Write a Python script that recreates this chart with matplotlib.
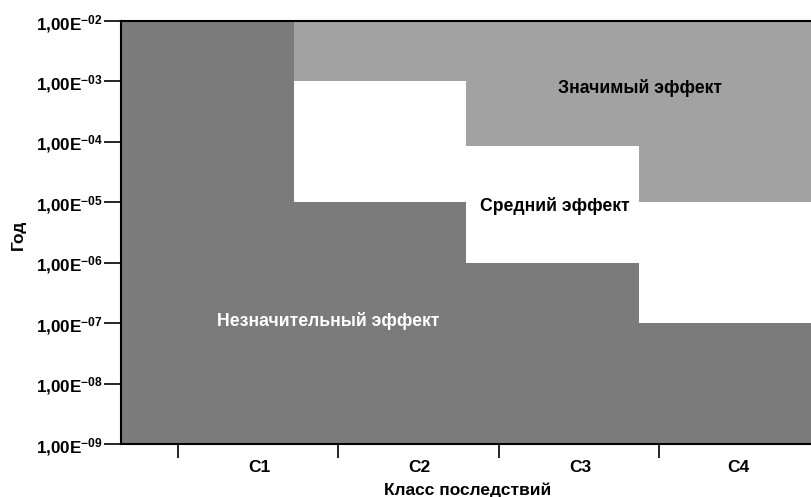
import numpy as np
import matplotlib
matplotlib.use("Agg")
import matplotlib.pyplot as plt

plt.rcParams['font.family'] = ['Liberation Sans', 'DejaVu Sans']
plt.rcParams['font.weight'] = 'bold'
plt.rcParams['mathtext.fontset'] = 'custom'
plt.rcParams['mathtext.rm'] = 'Liberation Sans:bold'
plt.rcParams['mathtext.default'] = 'rm'

# данные: границы зон по классам последствий (нижние границы зон)
classes = ["C1", "C2", "C3", "C4"]
white_bottom = [1e-2, 1e-5, 1e-6, 1e-7]     # нижняя граница "Средний эффект"
light_bottom = [1e-2, 1e-3, 8.5e-5, 1e-5]   # нижняя граница "Значимый эффект"
y_min, y_max = 1e-9, 1e-2
y_ticks = [1e-2, 1e-3, 1e-4, 1e-5, 1e-6, 1e-7, 1e-8, 1e-9]
tick_pos = [0.33, 1.26, 2.19, 3.12]     # засечки оси X (смещены, как в оригинале)
label_pos = [0.80, 1.73, 2.66, 3.58]

dark = "#7b7b7b"
light = "#a2a2a2"

fig = plt.figure(figsize=(8.11, 4.97), dpi=100)
ax = fig.add_axes([121 / 811, 1 - 444 / 497, 1 - 121 / 811, (444 - 21) / 497])
ax.set_yscale("log")

x = np.arange(len(classes))
wb = np.array(white_bottom)
lb = np.array(light_bottom)
# тёмная зона
ax.bar(x, wb - y_min, bottom=y_min, width=1.0, align="edge", color=dark, linewidth=0)
# белая зона
ax.bar(x, lb - wb, bottom=wb, width=1.0, align="edge", color="white", linewidth=0)
# светлая зона
ax.bar(x, y_max - lb, bottom=lb, width=1.0, align="edge", color=light, linewidth=0)

ax.set_xlim(0, 4)
ax.set_ylim(y_min, y_max)

ax.set_yticks(y_ticks)
ax.set_yticklabels([r"1,00E$^{-%02d}$" % int(round(-np.log10(v))) for v in y_ticks], fontsize=12.3)
ax.yaxis.set_minor_locator(matplotlib.ticker.NullLocator())
ax.tick_params(axis="y", length=12, width=1.2, pad=1)

ax.set_xticks(tick_pos)
ax.set_xticklabels([])
ax.tick_params(axis="x", length=10, width=1.2, direction="out")
for p, c in zip(label_pos, classes):
    ax.text(p, -0.055, c, transform=ax.get_xaxis_transform(), ha="center", va="center",
            fontsize=12.5, fontweight="bold")

ax.spines["right"].set_visible(False)
for s in ["left", "bottom", "top"]:
    ax.spines[s].set_linewidth(1.5)

ax.text(1.2, 1.1e-7, "Незначительный эффект", ha="center", va="center", color="white",
        fontsize=12.7, fontweight="bold")
ax.text(2.516, 8.7e-6, "Средний эффект", ha="center", va="center", color="black",
        fontsize=12.7, fontweight="bold")
ax.text(3.009, 7.8e-4, "Значимый эффект", ha="center", va="center", color="black",
        fontsize=12.7, fontweight="bold")

fig.text(18 / 811, 1 - 235 / 497, "Год", rotation=90, ha="center", va="center",
         fontsize=12.5, fontweight="bold")
fig.text(468 / 811, 1 - 490 / 497, "Класс последствий", ha="center", va="center",
         fontsize=12.5, fontweight="bold")

fig.savefig("out.png", dpi=100)
